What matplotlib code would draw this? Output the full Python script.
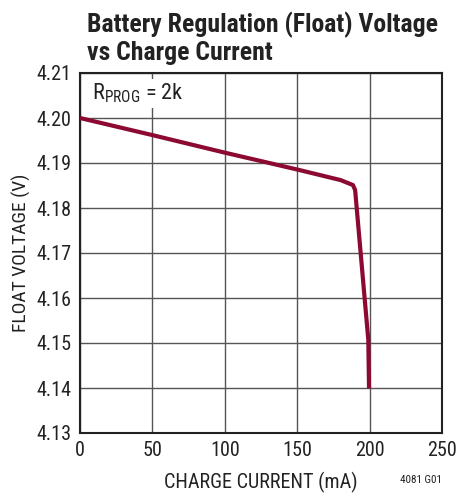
import matplotlib
matplotlib.use("Agg")
import matplotlib.pyplot as plt
from matplotlib import font_manager

names = {f.name for f in font_manager.fontManager.ttflist}
candidates = ['Roboto Condensed', 'Archivo Narrow', 'PT Sans Narrow', 'Liberation Sans Narrow',
              'Fira Sans Condensed', 'Encode Sans Condensed']
cond = next((c for c in candidates if c in names), 'DejaVu Sans')
fam = [cond, 'DejaVu Sans']
plt.rcParams['font.family'] = fam
plt.rcParams['mathtext.fontset'] = 'custom'
plt.rcParams['mathtext.rm'] = cond

current_ma = [0, 50, 100, 152, 180, 188.5, 190, 199.1, 199.6]
float_v = [4.200, 4.1962, 4.1923, 4.1884, 4.1862, 4.1851, 4.1840, 4.1507, 4.1399]

xticks = [0, 50, 100, 150, 200, 250]
yticks = [4.13, 4.14, 4.15, 4.16, 4.17, 4.18, 4.19, 4.20, 4.21]

fig = plt.figure(figsize=(4.58, 4.96), dpi=100)
ax = fig.add_axes([80/458, 1-433/496, 362/458, 360/496])
ax.plot(current_ma, float_v, color='#8C0A32', lw=3, solid_joinstyle='round', solid_capstyle='butt', zorder=3)
ax.set_xlim(0, 250)
ax.set_ylim(4.13, 4.21)
ax.set_xticks(xticks)
ax.set_yticks(yticks)
ax.set_yticklabels([f"{v:.2f}" for v in yticks])
ax.grid(True, color='#555555', lw=1.0)
ax.tick_params(length=0, labelsize=14.5, pad=6, colors='#222222')
for s in ax.spines.values():
    s.set_linewidth(1.5)
    s.set_color('#222222')
ax.set_xlabel('CHARGE CURRENT (mA)', fontsize=14.5, color='#222222', labelpad=8)
ax.set_ylabel('FLOAT VOLTAGE (V)', fontsize=14, color='#222222', labelpad=4)
ax.text(8, 4.2055, r'R$_{\mathregular{PROG}}$ = 2k', fontsize=16, color='#222222', va='center', ha='left',
        bbox=dict(facecolor='white', edgecolor='none', pad=2))
fig.text(87/458, 1-38/496, 'Battery Regulation (Float) Voltage\nvs Charge Current', fontsize=18.5,
         fontweight='bold', ha='left', va='center', color='#222222', linespacing=1.15)
fig.text(442/458, 1-480/496, '4081 G01', fontsize=8, ha='right', va='center', color='#222222')
fig.savefig('out.png', dpi=100)
